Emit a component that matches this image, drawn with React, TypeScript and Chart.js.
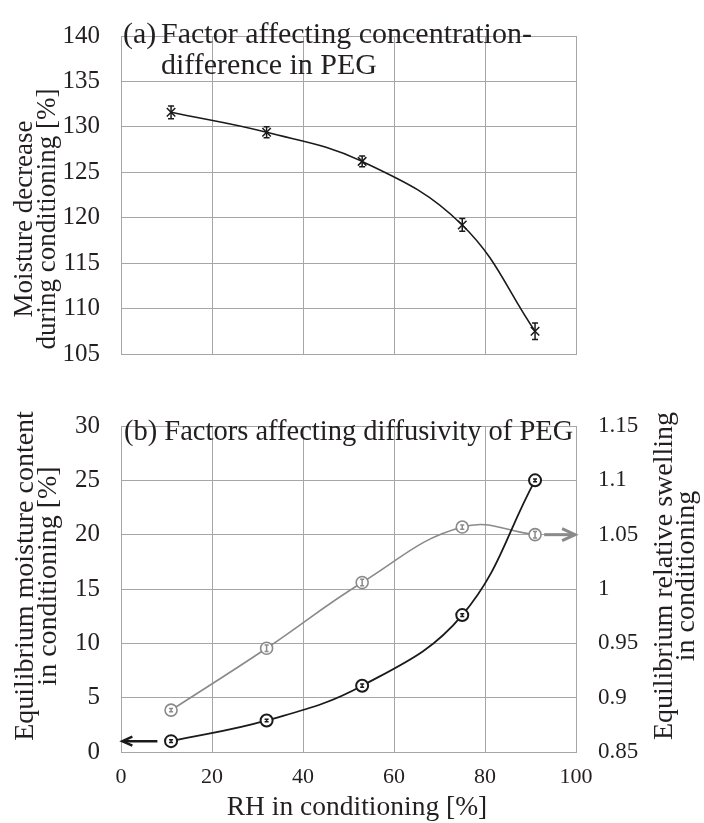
import React, { useEffect, useRef } from "react";
import { Chart, registerables } from "chart.js";

Chart.register(...registerables);

// ---------- data ----------
const rh = [11, 32, 53, 75, 91];

const moistureDecrease = [131.6, 129.4, 126.2, 119.2, 107.5];
const moistureDecreaseErr = [0.7, 0.6, 0.6, 0.7, 0.9];

const eqMoisture = [1.0, 2.9, 6.1, 12.6, 25.0];
const eqMoistureErr = [0.12, 0.12, 0.15, 0.12, 0.12];

const eqSwelling = [0.8885, 0.9455, 1.006, 1.057, 1.05];
const eqSwellingErr = [0.0015, 0.003, 0.003, 0.002, 0.003];

const xTicks = [0, 20, 40, 60, 80, 100];
const yTicksTop = [105, 110, 115, 120, 125, 130, 135, 140];
const yTicksLeft = [0, 5, 10, 15, 20, 25, 30];
const yTicksRight = [0.85, 0.9, 0.95, 1, 1.05, 1.1, 1.15];

// arrows (data units)
const leftArrowX = [8, 0.3];
const rightArrowX = [93, 99.8];

// ---------- style ----------
const FONT = '"Liberation Serif", "Times New Roman", serif';
const TEXT = "#231f20";
const GRID = "#a6a6a6";
const BLACK = "#1a1a1a";
const GRAY = "#8a8a8a";

Chart.defaults.font.family = FONT;
Chart.defaults.color = TEXT;

type TextItem = {
  text: string;
  x: number;
  y: number;
  size: number;
  rot?: number;
  align?: CanvasTextAlign;
  color?: string;
};

function textPlugin(id: string, items: TextItem[]) {
  return {
    id,
    afterDraw(chart: any) {
      const ctx = chart.ctx as CanvasRenderingContext2D;
      for (const t of items) {
        ctx.save();
        ctx.translate(t.x, t.y);
        if (t.rot) ctx.rotate(t.rot);
        ctx.font = `${t.size}px ${FONT}`;
        ctx.fillStyle = t.color || TEXT;
        ctx.textAlign = t.align || "left";
        ctx.textBaseline = "middle";
        ctx.fillText(t.text, 0, 0);
        ctx.restore();
      }
    },
  };
}

const errorBarPlugin = {
  id: "errbars",
  afterDatasetsDraw(chart: any) {
    const ctx = chart.ctx as CanvasRenderingContext2D;
    chart.data.datasets.forEach((ds: any, i: number) => {
      if (!ds.errors) return;
      const meta = chart.getDatasetMeta(i);
      const ys = chart.scales[meta.yAxisID];
      ctx.save();
      ctx.strokeStyle = ds.errColor;
      ctx.lineWidth = ds.errWidth;
      meta.data.forEach((pt: any, j: number) => {
        const v = ds.data[j].y;
        const e = ds.errors[j];
        const y1 = ys.getPixelForValue(v - e);
        const y2 = ys.getPixelForValue(v + e);
        const c = ds.errCap;
        ctx.beginPath();
        ctx.moveTo(pt.x, y1);
        ctx.lineTo(pt.x, y2);
        ctx.moveTo(pt.x - c, y1);
        ctx.lineTo(pt.x + c, y1);
        ctx.moveTo(pt.x - c, y2);
        ctx.lineTo(pt.x + c, y2);
        ctx.stroke();
      });
      ctx.restore();
    });
  },
};

function arrowPlugin(
  id: string,
  xs: number[],
  yValue: number,
  yAxis: string,
  color: string,
  width: number,
  headLen: number,
  headHalf: number
) {
  return {
    id,
    afterDatasetsDraw(chart: any) {
      const ctx = chart.ctx as CanvasRenderingContext2D;
      const sx = chart.scales.x;
      const sy = chart.scales[yAxis];
      const x1 = sx.getPixelForValue(xs[0]);
      const x2 = sx.getPixelForValue(xs[1]);
      const y = sy.getPixelForValue(yValue);
      const dir = Math.sign(x2 - x1);
      ctx.save();
      ctx.strokeStyle = color;
      ctx.lineWidth = width;
      ctx.lineCap = "butt";
      ctx.beginPath();
      ctx.moveTo(x1, y);
      ctx.lineTo(x2 - dir * 1.5, y);
      ctx.stroke();
      ctx.lineJoin = "miter";
      ctx.beginPath();
      ctx.moveTo(x2 - dir * headLen, y - headHalf);
      ctx.lineTo(x2, y);
      ctx.lineTo(x2 - dir * headLen, y + headHalf);
      ctx.stroke();
      ctx.restore();
    },
  };
}

const setTicks = (vals: number[]) => (s: any) => {
  s.ticks = vals.map((v) => ({ value: v }));
};
const fmt = (v: any) => String(parseFloat(Number(v).toFixed(3)));

export default function App() {
  const topRef = useRef<HTMLCanvasElement>(null);
  const botRef = useRef<HTMLCanvasElement>(null);

  useEffect(() => {
    const gridOpts = { color: GRID, lineWidth: 1, drawTicks: false };
    const borderOpts = { color: GRID, width: 1 };

    const topTexts: TextItem[] = [
      { text: "(a)", x: 123, y: 35, size: 30 },
      { text: "Factor affecting concentration-", x: 161, y: 35, size: 30 },
      { text: "difference in PEG", x: 161, y: 66, size: 30 },
      { text: "Moisture decrease", x: 24.5, y: 219, size: 27, rot: -Math.PI / 2, align: "center" },
      { text: "during conditioning [%]", x: 48, y: 219, size: 27, rot: -Math.PI / 2, align: "center" },
    ];

    const topChart = new Chart(topRef.current!, {
      type: "line",
      data: {
        datasets: [
          {
            data: rh.map((x, i) => ({ x, y: moistureDecrease[i] })),
            errors: moistureDecreaseErr,
            errColor: BLACK,
            errWidth: 1.5,
            errCap: 3,
            borderColor: BLACK,
            borderWidth: 1.6,
            tension: 0.4,
            pointStyle: "crossRot",
            pointRadius: 6,
            pointBorderWidth: 1.5,
            pointBorderColor: BLACK,
            pointBackgroundColor: BLACK,
            fill: false,
          } as any,
        ],
      },
      options: {
        responsive: false,
        animation: false,
        devicePixelRatio: 1,
        layout: { padding: { top: 15, right: 128, left: 0, bottom: 0 } },
        plugins: { legend: { display: false }, tooltip: { enabled: false } },
        scales: {
          x: {
            type: "linear",
            min: 0,
            max: 100,
            afterBuildTicks: setTicks(xTicks),
            ticks: { display: false },
            grid: gridOpts,
            border: borderOpts,
            afterFit: (s: any) => {
              s.height = 14;
            },
          },
          y: {
            type: "linear",
            min: 105,
            max: 140,
            afterBuildTicks: setTicks(yTicksTop),
            ticks: { padding: 21, font: { size: 25 }, color: TEXT, callback: fmt },
            grid: gridOpts,
            border: borderOpts,
            afterFit: (s: any) => {
              s.width = 121;
            },
          },
        },
      } as any,
      plugins: [errorBarPlugin, textPlugin("topTexts", topTexts)],
    });

    const botTexts: TextItem[] = [
      { text: "(b) Factors affecting diffusivity of PEG", x: 124, y: 43, size: 28.5 },
      { text: "Equilibrium moisture content", x: 25.5, y: 186, size: 28, rot: -Math.PI / 2, align: "center" },
      { text: "in conditioning [%]", x: 49, y: 186, size: 28, rot: -Math.PI / 2, align: "center" },
      { text: "Equilibrium relative swelling", x: 665, y: 186, size: 28, rot: -Math.PI / 2, align: "center" },
      { text: "in conditioning", x: 687, y: 186, size: 28, rot: -Math.PI / 2, align: "center" },
      { text: "RH in conditioning [%]", x: 357, y: 418, size: 27.5, align: "center" },
    ];

    const botChart = new Chart(botRef.current!, {
      type: "line",
      data: {
        datasets: [
          {
            data: rh.map((x, i) => ({ x, y: eqMoisture[i] })),
            yAxisID: "y",
            errors: eqMoistureErr,
            errColor: BLACK,
            errWidth: 1.5,
            errCap: 2,
            borderColor: BLACK,
            borderWidth: 1.8,
            tension: 0.4,
            pointStyle: "circle",
            pointRadius: 6,
            pointBorderWidth: 2,
            pointBorderColor: BLACK,
            pointBackgroundColor: "#ffffff",
            fill: false,
          } as any,
          {
            data: rh.map((x, i) => ({ x, y: eqSwelling[i] })),
            yAxisID: "y2",
            errors: eqSwellingErr,
            errColor: GRAY,
            errWidth: 1.5,
            errCap: 2,
            borderColor: GRAY,
            borderWidth: 1.6,
            tension: 0.42,
            pointStyle: "circle",
            pointRadius: 6,
            pointBorderWidth: 1.6,
            pointBorderColor: GRAY,
            pointBackgroundColor: "#ffffff",
            fill: false,
          } as any,
        ],
      },
      options: {
        responsive: false,
        animation: false,
        devicePixelRatio: 1,
        layout: { padding: { top: 16, right: 0, left: 0, bottom: 0 } },
        plugins: { legend: { display: false }, tooltip: { enabled: false } },
        scales: {
          x: {
            type: "linear",
            min: 0,
            max: 100,
            afterBuildTicks: setTicks(xTicks),
            ticks: { padding: 12, font: { size: 22 }, color: TEXT, callback: fmt, maxRotation: 0 },
            grid: gridOpts,
            border: borderOpts,
            afterFit: (s: any) => {
              s.height = 71;
            },
          },
          y: {
            type: "linear",
            position: "left",
            min: 0,
            max: 30,
            afterBuildTicks: setTicks(yTicksLeft),
            ticks: { padding: 21, font: { size: 25 }, color: TEXT, callback: fmt },
            grid: gridOpts,
            border: borderOpts,
            afterFit: (s: any) => {
              s.width = 121;
            },
          },
          y2: {
            type: "linear",
            position: "right",
            min: 0.85,
            max: 1.15,
            afterBuildTicks: setTicks(yTicksRight),
            ticks: { padding: 22, font: { size: 23 }, color: TEXT, callback: fmt },
            grid: { display: false, drawTicks: false },
            border: borderOpts,
            afterFit: (s: any) => {
              s.width = 128;
            },
          },
        },
      } as any,
      plugins: [
        errorBarPlugin,
        arrowPlugin("leftArrow", leftArrowX, eqMoisture[0], "y", BLACK, 2.5, 10, 4.5),
        arrowPlugin("rightArrow", rightArrowX, eqSwelling[4], "y2", GRAY, 3, 13, 6),
        textPlugin("botTexts", botTexts),
      ],
    });

    return () => {
      topChart.destroy();
      botChart.destroy();
    };
  }, []);

  return (
    <div
      style={{
        position: "absolute",
        left: 0,
        top: 0,
        width: 704,
        height: 823,
        background: "#ffffff",
      }}
    >
      <canvas
        ref={topRef}
        width={704}
        height={390}
        style={{ position: "absolute", left: 0, top: 0, width: 704, height: 390 }}
      />
      <canvas
        ref={botRef}
        width={704}
        height={433}
        style={{ position: "absolute", left: 0, top: 390, width: 704, height: 433 }}
      />
    </div>
  );
}
